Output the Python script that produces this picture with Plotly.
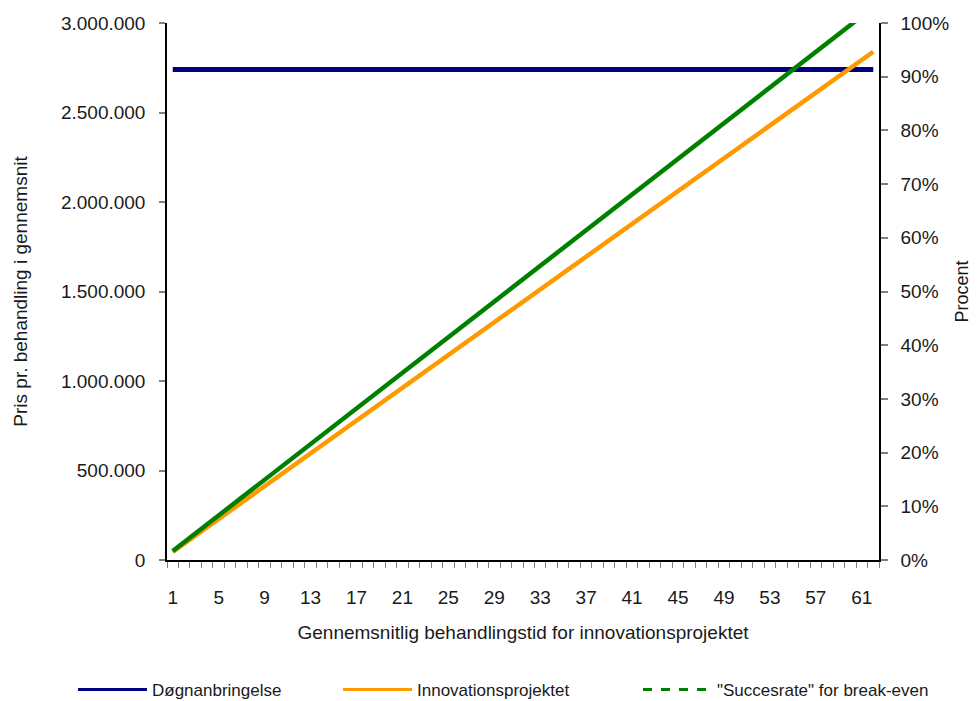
import plotly.graph_objects as go

days = list(range(1, 63))
x_tick_labels = [1, 5, 9, 13, 17, 21, 25, 29, 33, 37, 41, 45, 49, 53, 57, 61]

doegnanbringelse = [
    2740000, 2740000, 2740000, 2740000, 2740000, 2740000, 2740000, 2740000, 2740000, 2740000,
    2740000, 2740000, 2740000, 2740000, 2740000, 2740000, 2740000, 2740000, 2740000, 2740000,
    2740000, 2740000, 2740000, 2740000, 2740000, 2740000, 2740000, 2740000, 2740000, 2740000,
    2740000, 2740000, 2740000, 2740000, 2740000, 2740000, 2740000, 2740000, 2740000, 2740000,
    2740000, 2740000, 2740000, 2740000, 2740000, 2740000, 2740000, 2740000, 2740000, 2740000,
    2740000, 2740000, 2740000, 2740000, 2740000, 2740000, 2740000, 2740000, 2740000, 2740000,
    2740000, 2740000,
]

innovationsprojektet = [
    45800, 91600, 137400, 183200, 229000, 274800, 320600, 366400, 412200, 458000,
    503800, 549600, 595400, 641200, 687000, 732800, 778600, 824400, 870200, 916000,
    961800, 1007600, 1053400, 1099200, 1145000, 1190800, 1236600, 1282400, 1328200, 1374000,
    1419800, 1465600, 1511400, 1557200, 1603000, 1648800, 1694600, 1740400, 1786200, 1832000,
    1877800, 1923600, 1969400, 2015200, 2061000, 2106800, 2152600, 2198400, 2244200, 2290000,
    2335800, 2381600, 2427400, 2473200, 2519000, 2564800, 2610600, 2656400, 2702200, 2748000,
    2793800, 2839600,
]

succesrate = [
    0.0166, 0.0332, 0.0498, 0.0664, 0.0830, 0.0996, 0.1162, 0.1328, 0.1494, 0.1660,
    0.1826, 0.1992, 0.2158, 0.2324, 0.2490, 0.2656, 0.2822, 0.2988, 0.3154, 0.3320,
    0.3486, 0.3652, 0.3818, 0.3984, 0.4150, 0.4316, 0.4482, 0.4648, 0.4814, 0.4980,
    0.5146, 0.5312, 0.5478, 0.5644, 0.5810, 0.5976, 0.6142, 0.6308, 0.6474, 0.6640,
    0.6806, 0.6972, 0.7138, 0.7304, 0.7470, 0.7636, 0.7802, 0.7968, 0.8134, 0.8300,
    0.8466, 0.8632, 0.8798, 0.8964, 0.9130, 0.9296, 0.9462, 0.9628, 0.9794, 0.9960,
    1.0126, 1.0292,
]

NAVY = "#000080"
ORANGE = "#FF9900"
GREEN = "#008000"
FONT = "Liberation Sans, Arial, sans-serif"
TXT = "#1a1a1a"

fig = go.Figure()

fig.add_trace(go.Scatter(x=days, y=doegnanbringelse, mode="lines", name="Døgnanbringelse",
                         line=dict(color=NAVY, width=5), showlegend=False, yaxis="y"))
fig.add_trace(go.Scatter(x=days, y=innovationsprojektet, mode="lines", name="Innovationsprojektet",
                         line=dict(color=ORANGE, width=4.5), showlegend=False, yaxis="y"))
fig.add_trace(go.Scatter(x=days, y=succesrate, mode="lines", name='"Succesrate" for break-even',
                         line=dict(color=GREEN, width=4.5), showlegend=False, yaxis="y2"))

# legend entries
fig.add_trace(go.Scatter(x=[None], y=[None], mode="lines", name="Døgnanbringelse",
                         line=dict(color=NAVY, width=3), legend="legend"))
fig.add_trace(go.Scatter(x=[None], y=[None], mode="lines", name="Innovationsprojektet",
                         line=dict(color=ORANGE, width=3), legend="legend2"))
fig.add_trace(go.Scatter(x=[None], y=[None], mode="lines", name='"Succesrate" for break-even',
                         line=dict(color=GREEN, width=3, dash="dash"), legend="legend3"))

# page body has an 8px offset; layout in figure pixel coordinates
L, R, T, B = 159, 106, 15, 149
W, H = 977, 701
pw, ph = W - L - R, H - T - B

def px2x(px):
    return (px - L) / pw

def py2y(py):
    return (H - B - py) / ph

leg_common = dict(orientation="h", yanchor="middle", xanchor="left",
                  font=dict(family=FONT, size=17, color=TXT), bgcolor="rgba(0,0,0,0)",
                  itemwidth=69)
fig.update_layout(
    legend=dict(x=px2x(65), y=py2y(682), **leg_common),
    legend2=dict(x=px2x(330), y=py2y(682), **leg_common),
    legend3=dict(x=px2x(630), y=py2y(682), **leg_common),
)

fig.update_layout(
    width=W, height=H,
    margin=dict(l=L, r=R, t=T, b=B, pad=0, autoexpand=False),
    paper_bgcolor="white", plot_bgcolor="white",
    separators=",.",
    font=dict(family=FONT, size=19, color=TXT),
    xaxis=dict(
        range=[0.5, 62.5], tickmode="array", tickvals=x_tick_labels,
        ticktext=[str(v) for v in x_tick_labels],
        ticks="", ticklen=0, showgrid=False, zeroline=False, automargin=False,
        showline=True, linecolor="black", linewidth=1.5,
        tickfont=dict(family=FONT, size=19, color=TXT),
        ticklabelstandoff=19,
        minor=dict(tickmode="array", tickvals=[d - 0.5 for d in days] + [62.5],
                   ticks="outside", ticklen=6, tickcolor="#808080", tickwidth=1, showgrid=False),
        title=dict(text="Gennemsnitlig behandlingstid for innovationsprojektet",
                   font=dict(family=FONT, size=19, color=TXT), standoff=19),
    ),
    yaxis=dict(
        range=[0, 3000000], dtick=500000, tickformat=",.0f",
        ticks="outside", ticklen=6, tickcolor="#808080", tickwidth=1.5,
        showgrid=False, zeroline=False, automargin=False,
        showline=True, linecolor="black", linewidth=1.5,
        tickfont=dict(family=FONT, size=19, color=TXT),
        ticklabelstandoff=10,
        title=dict(text="Pris pr. behandling i gennemsnit",
                   font=dict(family=FONT, size=19, color=TXT), standoff=28),
    ),
    yaxis2=dict(
        range=[0, 1], dtick=0.1, tickformat=".0%", overlaying="y", side="right",
        ticks="outside", ticklen=7, tickcolor="#808080", tickwidth=1.5,
        showgrid=False, zeroline=False, automargin=False,
        showline=True, linecolor="black", linewidth=1.5,
        tickfont=dict(family=FONT, size=19, color=TXT),
        ticklabelstandoff=9,
        title=dict(text="Procent", font=dict(family=FONT, size=18, color=TXT), standoff=7),
    ),
)

fig.write_html("out.html")
